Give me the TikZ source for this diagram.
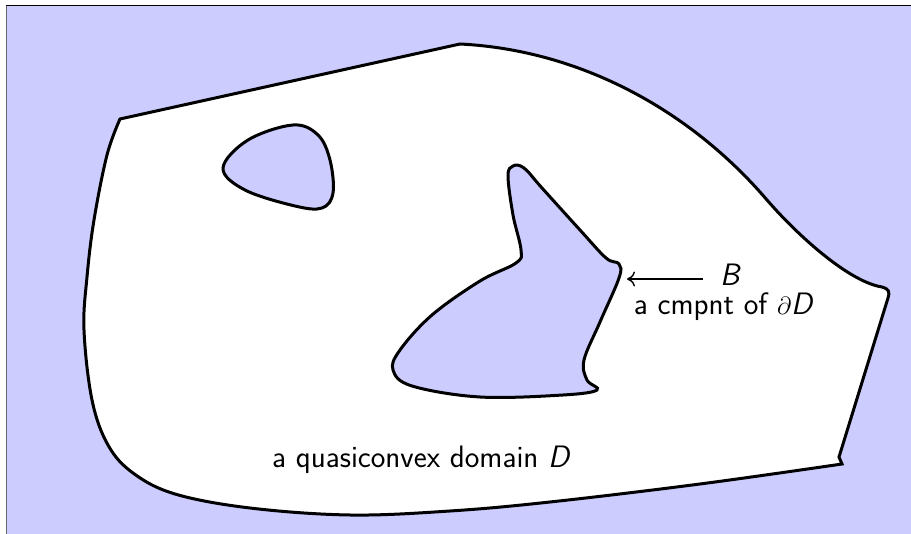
\documentclass[tikz,border=0pt]{standalone}
\usepackage{amssymb}
\usetikzlibrary{arrows.meta}
\tikzset{
  boundary/.style={line width=3pt, draw=black},
  hole/.style={boundary, fill=blue!20},
  label/.style={font=\fontsize{31}{35}\selectfont\sffamily, inner sep=0pt},
  pointer/.style={-{Computer Modern Rightarrow[length=8pt, width=15pt]}, line width=1.4pt}
}
\begin{document}
\begin{tikzpicture}[x=1pt, y=-1pt]
  \useasboundingbox (0,0) rectangle (911,534);
  % background sheet with its frame on the top and left edges
  \fill[blue!20] (6,6) rectangle (911,534);
  \draw[line width=1pt, black] (6,6) -- (911,6);
  \draw[line width=1pt, black!60] (6,6) -- (6,534);

  % the domain D
  \path[boundary, fill=white]
    (120,119) -- (460,44)
    .. controls (580,50) and (690,110) .. (767,200)
    .. controls (800,238) and (850,282) .. (882,287)
    .. controls (889,289) and (890,292) .. (888,298)
    -- (839,457) -- (842,464)
    -- plot[smooth, tension=0.6] coordinates {(842,464) (700,484) (550,502) (450,511) (350,515) (250,508) (175,494) (133,473) (108,445) (92,400) (84,330) (87,277) (94,220) (107,155) (120,119)}
    -- cycle;

  % small hole
  \path[hole] plot[smooth cycle, tension=0.6] coordinates
    {(223,168) (248,140) (293,125) (318,135) (330,160) (333,193) (322,208) (295,206) (245,190)};

  % large hole B
  \path[hole] plot[smooth cycle, tension=0.6] coordinates
    {(513,166) (524,168) (542,188) (580,230) (606,258) (619,264) (619,278) (600,322) (584,360) (587,380) (597,390) (563,395) (480,397) (412,386) (393,370) (400,350) (432,315) (480,281) (516,263) (521,250) (513,215) (508,176)};

  % labels
  \coordinate (Btip) at (627,279);
  \coordinate (Btail) at (703,279);
  \node[label, anchor=base west] (B) at (720,286) {\textit{B}};
  \node[label, anchor=base] (cmp) at (724,315) {a cmpnt of $\partial$\textit{D}};
  \draw[pointer] (Btail) -- (Btip);
  \node[label, anchor=base west] (dom) at (272,468) {a quasiconvex domain \textit{D}};
\end{tikzpicture}
\end{document}
